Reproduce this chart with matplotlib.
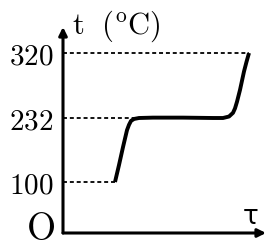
import matplotlib
matplotlib.use("Agg")
import matplotlib.pyplot as plt
import numpy as np

plt.rcParams["mathtext.fontset"] = "cm"

# heating curve (time in arbitrary units, temperature in C)
time = [5.2, 5.6, 6.0, 6.4, 6.6, 6.8, 7.1, 7.6, 9.0, 12.0, 15.0, 16.0,
        16.6, 17.0, 17.2, 17.4, 17.7, 18.1, 18.35, 18.6]
temp = [100, 135, 172, 207, 218, 226, 230, 232, 232.5, 232.5, 232, 232,
        234, 239, 245, 254, 270, 295, 308, 320]

tick_vals = [100, 232, 320]
tick_labels = ["100", "232", "320"]

# schematic (non-linear) temperature axis
knot_t = np.array([0, 100, 232, 320, 400])
knot_h = np.array([0, 51, 115, 180, 240])


def fwd(v):
    return np.interp(v, knot_t, knot_h, left=0, right=240)


def inv(h):
    return np.interp(h, knot_h, knot_t, left=0, right=400)


fig = plt.figure(figsize=(2.66, 2.48), dpi=100)
ax = fig.add_axes([63 / 266, 15 / 248, 203 / 266, 206 / 248])
ax.set_yscale("function", functions=(fwd, inv))
ax.set_xlim(0, 20.3)
ax.set_ylim(0, inv(206))

for s in ax.spines.values():
    s.set_visible(False)
ax.set_xticks([])
ax.set_yticks(tick_vals)
ax.set_yticklabels(["$%s$" % t for t in tick_labels], fontsize=21)
ax.tick_params(axis="y", length=0, pad=7)

# dotted guides to the curve
for v in tick_vals:
    j = temp.index(v)
    ax.plot([0, time[j]], [v, v], color="black", lw=1.3,
            linestyle=(0, (2.2, 1.6)))

ax.plot(time, temp, color="black", lw=2.8, solid_capstyle="butt",
        solid_joinstyle="round")

# axes with arrows
ax.annotate("", xy=(1, 0), xytext=(0, 0), xycoords="axes fraction",
            arrowprops=dict(arrowstyle="-|>", lw=2.2, color="black",
                            mutation_scale=12, shrinkA=0, shrinkB=0))
ax.annotate("", xy=(0, 1), xytext=(0, 0), xycoords="axes fraction",
            arrowprops=dict(arrowstyle="-|>", lw=2.2, color="black",
                            mutation_scale=12, shrinkA=0, shrinkB=0))

fig.text(72 / 266, 1 - 34 / 248, r"$\mathrm{t\ \ (^oC)}$", fontsize=22,
         ha="left", va="baseline")
fig.text(40 / 266, 1 - 248 / 248, r"$\mathrm{O}$", fontsize=27,
         ha="center", va="bottom")
fig.text(251 / 266, 1 - 224 / 248, "τ", fontsize=19, family="DejaVu Sans",
         ha="center", va="baseline")

fig.savefig("out.png", dpi=100)
